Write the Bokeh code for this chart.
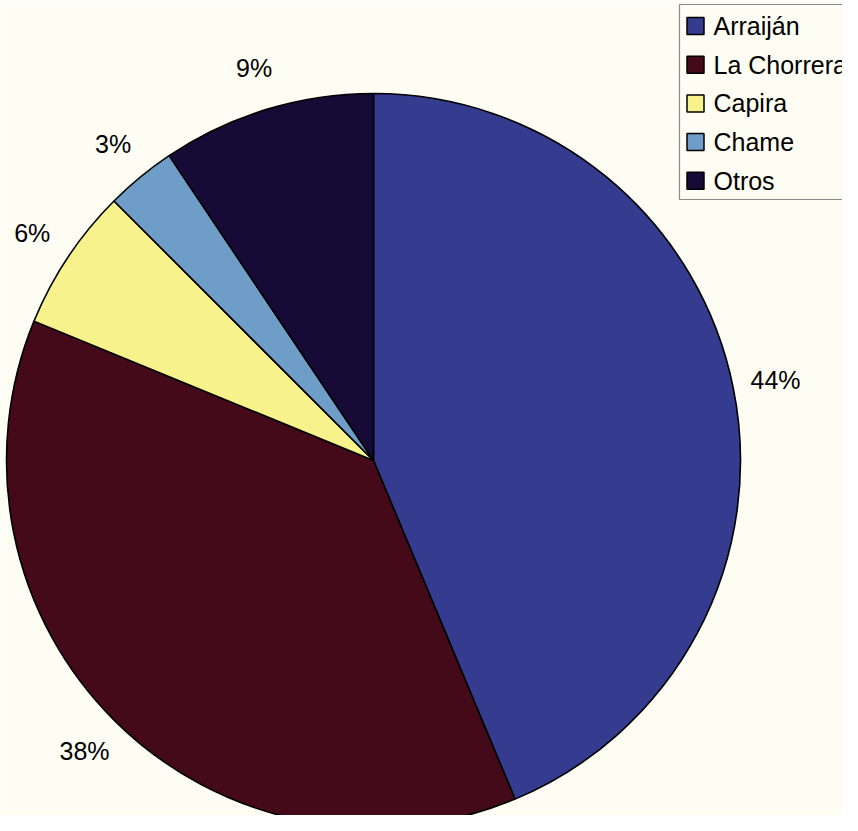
import math
from bokeh.plotting import figure
from bokeh.models import Range1d, ColumnDataSource
from bokeh.core.properties import value
from bokeh.embed import file_html
from bokeh.resources import INLINE

# ---- data ----
categories = ["Arraiján", "La Chorrera", "Capira", "Chame", "Otros"]
shares = [43.7, 37.5, 6.3, 3.1, 9.4]
pct_labels = ["44%", "38%", "6%", "3%", "9%"]
colors = ["#353B8F", "#440A1A", "#F8F28C", "#6E9DC8", "#160B36"]

# ---- layout (screen pixels) ----
W, H = 842, 815
WIN_H = 831
BG = "#FDFDF4"
FONT = "Liberation Sans"
FS = 25

def sy(y):  # screen y -> data y
    return WIN_H - y

cx, cy, R = 381, sy(468), 367
label_r = 410

p = figure(width=W, height=H, output_backend="svg", toolbar_location=None,
           x_range=Range1d(8, 8 + W), y_range=Range1d(sy(8 + H), sy(8)),
           min_border=0)
p.axis.visible = False
p.grid.visible = False
p.outline_line_color = None
p.background_fill_color = BG
p.border_fill_color = BG

total = sum(shares)
starts, ends, lx, ly = [], [], [], []
c = 0.0
for s in shares:
    f0 = c / total
    c += s
    f1 = c / total
    starts.append(math.pi / 2 - 2 * math.pi * f1)
    ends.append(math.pi / 2 - 2 * math.pi * f0)
    fm = (f0 + f1) / 2
    ang = math.pi / 2 - 2 * math.pi * fm
    lx.append(cx + label_r * math.cos(ang))
    ly.append(cy + label_r * math.sin(ang))

src = ColumnDataSource(dict(cat=categories, start=starts, end=ends,
                            color=colors, lx=lx, ly=ly, lab=pct_labels))

p.wedge(x=cx, y=cy, radius=R, start_angle="start", end_angle="end",
        fill_color="color", line_color="#000000", line_width=1.6, source=src)

p.text(x="lx", y="ly", text="lab", source=src, text_font=value(FONT),
       text_font_size=f"{FS}px", text_align="center",
       text_baseline="middle", text_color="#000000")

# ---- legend ----
lg_left, lg_top, lg_bottom, lg_right = 687, 12, 207, 880
p.quad(left=lg_left, right=lg_right, top=sy(lg_top), bottom=sy(lg_bottom),
       fill_color=BG, line_color="#8A8A8A", line_width=1.2)
row0, step = 33.5, 38.7
sq = 17
lsx = [703] * len(categories)
lsy = [sy(row0 + i * step) for i in range(len(categories))]
ltx = [721] * len(categories)
lty = [sy(row0 + i * step) for i in range(len(categories))]
leg = ColumnDataSource(dict(sx=lsx, sy=lsy, tx=ltx, ty=lty,
                            cat=categories, color=colors))
p.rect(x="sx", y="sy", width=sq, height=sq, fill_color="color",
       line_color="#000000", line_width=1.5, source=leg)
p.text(x="tx", y="ty", text="cat", source=leg, text_font=value(FONT),
       text_font_size=f"{FS}px", text_align="left",
       text_baseline="middle", text_color="#000000")

open("out.html", "w").write(file_html(p, INLINE))
